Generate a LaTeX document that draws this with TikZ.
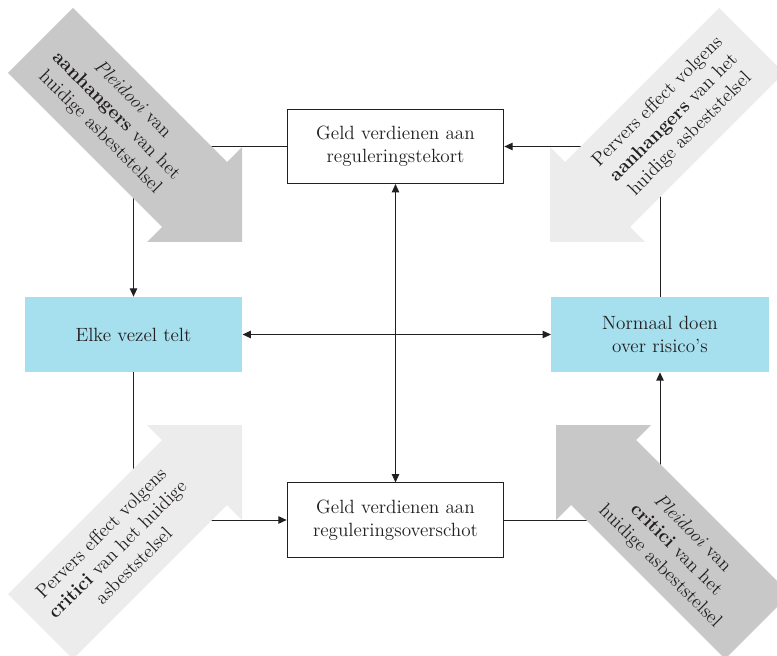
\documentclass[tikz,border=0pt]{standalone}
\usepackage{tikz}
\usetikzlibrary{arrows.meta}

\definecolor{donker}{RGB}{35,31,32}
\definecolor{lichtblauw}{RGB}{166,224,238}
\definecolor{grijs}{RGB}{200,200,200}
\definecolor{lichtgrijs}{RGB}{236,236,236}

\begin{document}
\begin{tikzpicture}[x=0.6pt,y=-0.6pt,
  font=\fontsize{11.5}{13.8}\selectfont,text=donker,
  >={Triangle[length=5pt,width=4.5pt]},
  box/.style={draw=donker,line width=0.6pt,fill=white,align=center,minimum width=130pt,minimum height=44.5pt},
  vlak/.style={fill=lichtblauw,align=center,minimum width=130.5pt,minimum height=45pt},
  lijn/.style={draw=donker,line width=0.6pt},
  pijltekst/.style={align=center}]

\useasboundingbox (0,0) rectangle (777,656);
\clip (0,0) rectangle (777,656);

% vakken
\node[box] (tekort) at (395.5,146.5) {Geld verdienen aan\\reguleringstekort};
\node[box] (overschot) at (395.5,520) {Geld verdienen aan\\reguleringsoverschot};
\node[vlak] (elke) at (133.5,334.5) {Elke vezel telt};
\node[vlak] (normaal) at (660,334.5) {Normaal doen\\over risico's};

% verbindingen
\draw[lijn,->] (tekort.west) -| (elke.north);
\draw[lijn,->] (normaal.north) |- (tekort.east);
\draw[lijn,->] (elke.south) |- (overschot.west);
\draw[lijn,->] (overschot.east) -| (normaal.south);
\draw[lijn,<->] (elke.east) -- (normaal.west);
\draw[lijn,<->] (tekort.south) -- (overschot.north);

% dikke pijlen
\fill[grijs] (242,242) -- (147,242) -- (162,227) -- (8,73) -- (73,8) -- (227,162) -- (242,147) -- cycle;
\fill[lichtgrijs] (550,242) -- (645,242) -- (630,227) -- (784,73) -- (719,8) -- (565,162) -- (550,147) -- cycle;
\fill[lichtgrijs] (242,425) -- (147,425) -- (162,440) -- (8,594) -- (73,659) -- (227,505) -- (242,520) -- cycle;
\fill[grijs] (556,425) -- (651,425) -- (636,440) -- (790,594) -- (725,659) -- (571,505) -- (556,520) -- cycle;

\node[pijltekst,rotate=-45] (pleidooiA) at (116,116) {\textit{Pleidooi} van\\\textbf{aanhangers} van het\\huidige asbeststelsel};
\node[pijltekst,rotate=45] (perversA) at (674,118) {Pervers effect volgens\\\textbf{aanhangers} van het\\huidige asbeststelsel};
\node[pijltekst,rotate=45] (perversC) at (117,549) {Pervers effect volgens\\\textbf{critici} van het huidige\\asbeststelsel};
\node[pijltekst,rotate=-45] (pleidooiC) at (676,550) {\textit{Pleidooi} van\\\textbf{critici} van het\\huidige asbeststelsel};

\end{tikzpicture}
\end{document}
